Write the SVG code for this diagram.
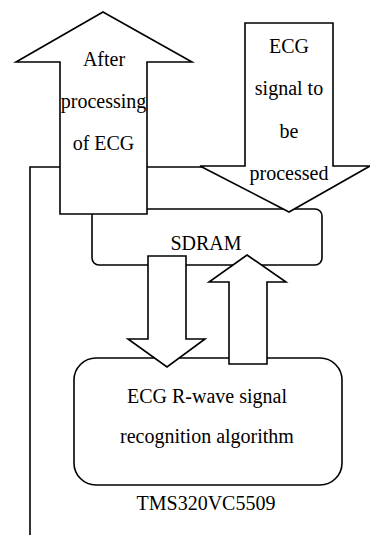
<svg xmlns="http://www.w3.org/2000/svg" width="370" height="535" viewBox="0 0 370 535">
<style>
.s{fill:#fff;stroke:#000;stroke-width:1.6;stroke-linejoin:miter}
.l{fill:none;stroke:#000;stroke-width:1.6}
.t{font-family:"Liberation Serif","Times New Roman",serif;font-size:20px;fill:#000;text-anchor:middle}
</style>
<rect width="370" height="535" fill="#fff"/>
<g id="connectors">
<polyline class="l" points="30,535 30,167 245,167"/>
</g>
<g id="sdram">
<rect class="s" x="92" y="209" width="230" height="56" rx="7"/>
<text class="t" x="206" y="250">SDRAM</text>
</g>
<g id="output-arrow">
<polygon class="s" points="103,12 192,62 147,62 147,214 60,214 60,62 16,62"/>
<text class="t" x="104" y="66">After</text>
<text class="t" x="103.5" y="108">processing</text>
<text class="t" x="103.5" y="150">of ECG</text>
</g>
<g id="input-arrow">
<polygon class="s" points="245,23 333,23 333,166 370,166 289,212 200,166 245,166"/>
<text class="t" x="289" y="53">ECG</text>
<text class="t" x="289" y="95">signal to</text>
<text class="t" x="289" y="138">be</text>
<text class="t" x="289" y="180">processed</text>
</g>
<g id="algorithm">
<rect class="s" x="74" y="358" width="268" height="127" rx="22"/>
<text class="t" x="207" y="403">ECG R-wave signal</text>
<text class="t" x="207" y="443">recognition algorithm</text>
</g>
<g id="to-algorithm-arrow">
<polygon class="s" points="148,256 186,256 186,339 205,339 167,367 128,339 148,339"/>
</g>
<g id="to-sdram-arrow">
<polygon class="s" points="247,255 286,282 267,282 267,364 229,364 229,282 209,282"/>
</g>
<g id="label">
<text class="t" x="206" y="510">TMS320VC5509</text>
</g>
</svg>
